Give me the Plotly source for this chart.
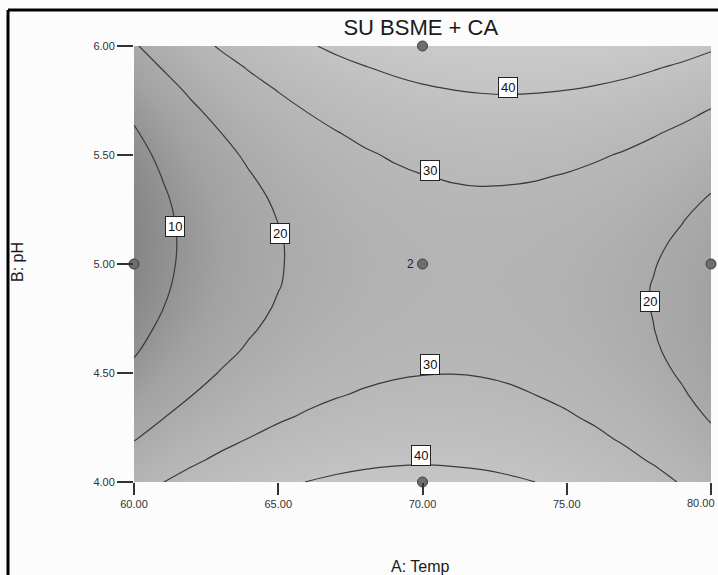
import plotly.graph_objects as go

# A: Temp (x), B: pH (y)
temp = [60, 61, 62, 63, 64, 65, 66, 67, 68, 69, 70, 71, 72, 73, 74, 75, 76, 77, 78, 79, 80]
ph = [4.0, 4.1, 4.2, 4.3, 4.4, 4.5, 4.6, 4.7, 4.8, 4.9, 5.0,
      5.1, 5.2, 5.3, 5.4, 5.5, 5.6, 5.7, 5.8, 5.9, 6.0]
# response "SU BSME + CA" estimated from the contour picture; rows = pH, columns = Temp
su = [
    [26.9, 29.9, 32.6, 34.9, 37.0, 38.7, 40.1, 41.2, 41.9, 42.4, 42.5, 42.3, 41.8, 41.0, 39.9, 38.4, 36.7, 34.6, 32.2, 29.5, 26.4],
    [23.1, 26.1, 28.9, 31.3, 33.4, 35.1, 36.6, 37.7, 38.6, 39.1, 39.3, 39.1, 38.7, 37.9, 36.9, 35.5, 33.7, 31.7, 29.4, 26.7, 23.7],
    [19.6, 22.7, 25.5, 28.0, 30.1, 32.0, 33.5, 34.7, 35.5, 36.1, 36.4, 36.3, 35.9, 35.2, 34.2, 32.8, 31.2, 29.2, 26.9, 24.3, 21.4],
    [16.5, 19.7, 22.5, 25.0, 27.3, 29.1, 30.7, 32.0, 32.9, 33.5, 33.8, 33.8, 33.5, 32.8, 31.9, 30.6, 29.0, 27.1, 24.8, 22.3, 19.4],
    [13.8, 17.0, 19.9, 22.5, 24.7, 26.7, 28.3, 29.6, 30.6, 31.3, 31.6, 31.7, 31.4, 30.8, 29.9, 28.7, 27.1, 25.3, 23.1, 20.6, 17.8],
    [11.4, 14.7, 17.6, 20.3, 22.6, 24.6, 26.3, 27.6, 28.7, 29.4, 29.8, 29.9, 29.7, 29.2, 28.3, 27.1, 25.6, 23.8, 21.7, 19.3, 16.5],
    [9.4, 12.7, 15.7, 18.4, 20.8, 22.9, 24.6, 26.0, 27.1, 27.9, 28.4, 28.5, 28.4, 27.9, 27.1, 26.0, 24.5, 22.8, 20.7, 18.3, 15.6],
    [7.8, 11.2, 14.2, 17.0, 19.4, 21.5, 23.3, 24.8, 25.9, 26.8, 27.3, 27.5, 27.4, 26.9, 26.2, 25.1, 23.8, 22.1, 20.1, 17.7, 15.1],
    [6.5, 9.9, 13.0, 15.8, 18.3, 20.5, 22.3, 23.9, 25.1, 26.0, 26.6, 26.8, 26.8, 26.4, 25.7, 24.7, 23.4, 21.7, 19.8, 17.5, 14.9],
    [5.6, 9.1, 12.2, 15.1, 17.6, 19.8, 21.7, 23.3, 24.6, 25.6, 26.2, 26.5, 26.5, 26.2, 25.6, 24.6, 23.3, 21.7, 19.8, 17.6, 15.1],
    [5.0, 8.6, 11.8, 14.7, 17.3, 19.6, 21.5, 23.2, 24.5, 25.5, 26.2, 26.6, 26.6, 26.3, 25.8, 24.9, 23.7, 22.1, 20.3, 18.1, 15.6],
    [4.8, 8.4, 11.7, 14.7, 17.3, 19.6, 21.7, 23.3, 24.7, 25.8, 26.5, 27.0, 27.1, 26.9, 26.3, 25.5, 24.4, 22.9, 21.1, 19.0, 16.6],
    [5.0, 8.6, 12.0, 15.0, 17.7, 20.1, 22.1, 23.9, 25.3, 26.5, 27.3, 27.7, 27.9, 27.8, 27.3, 26.5, 25.4, 24.0, 22.2, 20.2, 17.8],
    [5.5, 9.2, 12.6, 15.7, 18.4, 20.9, 23.0, 24.8, 26.3, 27.5, 28.3, 28.9, 29.1, 29.0, 28.6, 27.9, 26.8, 25.5, 23.8, 21.8, 19.5],
    [6.4, 10.2, 13.6, 16.7, 19.6, 22.1, 24.2, 26.1, 27.6, 28.9, 29.8, 30.4, 30.7, 30.6, 30.3, 29.6, 28.6, 27.3, 25.7, 23.7, 21.5],
    [7.6, 11.5, 15.0, 18.2, 21.0, 23.6, 25.8, 27.7, 29.3, 30.6, 31.6, 32.2, 32.6, 32.6, 32.3, 31.7, 30.7, 29.5, 27.9, 26.0, 23.8],
    [9.3, 13.1, 16.7, 19.9, 22.9, 25.5, 27.8, 29.7, 31.4, 32.7, 33.8, 34.5, 34.9, 34.9, 34.7, 34.1, 33.2, 32.0, 30.5, 28.7, 26.5],
    [11.2, 15.2, 18.8, 22.1, 25.1, 27.7, 30.1, 32.1, 33.8, 35.2, 36.3, 37.0, 37.5, 37.6, 37.4, 36.9, 36.1, 35.0, 33.5, 31.7, 29.6],
    [13.6, 17.6, 21.2, 24.6, 27.6, 30.3, 32.7, 34.8, 36.6, 38.0, 39.2, 40.0, 40.5, 40.7, 40.5, 40.1, 39.3, 38.2, 36.8, 35.1, 33.1],
    [16.3, 20.3, 24.0, 27.4, 30.5, 33.3, 35.8, 37.9, 39.7, 41.2, 42.4, 43.3, 43.9, 44.1, 44.0, 43.6, 42.9, 41.9, 40.5, 38.9, 36.9],
    [19.3, 23.4, 27.2, 30.7, 33.8, 36.7, 39.2, 41.4, 43.2, 44.8, 46.1, 47.0, 47.6, 47.9, 47.9, 47.5, 46.9, 45.9, 44.6, 43.0, 41.1],
]
# design points
design_temp = [60, 70, 70, 70, 80]
design_ph = [5.0, 4.0, 5.0, 6.0, 5.0]
design_rep = ["", "", "2", "", ""]
# contour label texts and their positions
label_text = ["10", "20", "30", "40", "20", "30", "40"]
label_temp = [61.42, 65.06, 70.26, 72.96, 77.89, 70.26, 69.95]
label_ph = [5.17, 5.14, 5.43, 5.81, 4.83, 4.54, 4.12]

xticks = [60, 65, 70, 75, 80]
yticks = [4.0, 4.5, 5.0, 5.5, 6.0]

FONT = "Liberation Sans, Arial, sans-serif"
TICKFONT = dict(family=FONT, size=11, color='#333')

fig = go.Figure()
fig.add_trace(go.Heatmap(
    x=temp, y=ph, z=su, zsmooth='best', zmin=0, zmax=50, showscale=False, hoverinfo='skip',
    colorscale=[[0, '#787878'], [0.3, '#a2a2a2'], [0.5, '#b2b2b2'], [0.8, '#c3c3c3'], [1, '#cdcdcd']]))
fig.add_trace(go.Contour(
    x=temp, y=ph, z=su, showscale=False,
    contours=dict(start=10, end=40, size=10, coloring='none'),
    line=dict(color='#3a3a3a', width=1.2, smoothing=1.0)))
fig.add_trace(go.Scatter(
    x=design_temp, y=design_ph, mode='markers', cliponaxis=False,
    marker=dict(size=10, color='#6e6e6e', line=dict(color='#3c3c3c', width=1))))

for t, a, b in zip(label_text, label_temp, label_ph):
    fig.add_annotation(x=a, y=b, text=t, showarrow=False, bgcolor='white',
                       bordercolor='#222', borderwidth=1, borderpad=2,
                       font=dict(family=FONT, size=13, color='#111'))
for t, a, b in zip(design_rep, design_temp, design_ph):
    if t:
        fig.add_annotation(x=a, y=b, text=t, showarrow=False, xshift=-12,
                           font=dict(family=FONT, size=12, color='#222'))

fig.update_xaxes(range=[60, 80], tickvals=xticks, tickformat='.2f', ticks='outside', ticklen=12,
                 tickcolor='#333', tickwidth=1.5, showgrid=False, zeroline=False, showline=False,
                 tickfont=TICKFONT)
fig.update_yaxes(range=[4, 6], tickvals=yticks, tickformat='.2f', ticks='outside', ticklen=16,
                 tickcolor='#333', tickwidth=1.5, showgrid=False, zeroline=False, showline=False,
                 tickfont=TICKFONT)

fig.update_layout(
    width=718, height=575, margin=dict(l=134, r=7, t=46, b=93),
    paper_bgcolor='#fcfcfc', plot_bgcolor='#b0b0b0', showlegend=False,
    title=dict(text="SU BSME + CA", x=0.497, xref='paper', xanchor='center',
               y=1 - 27 / 575, yref='container', yanchor='middle',
               font=dict(family=FONT, size=22, color='#1a1a1a')),
)
# last x tick label sits at the page edge: draw it right-aligned so it stays whole
fig.add_annotation(text="%.2f" % xticks[-1], xref='paper', yref='paper', x=(717 - 134) / 577,
                   y=(482 - 503) / 436, xanchor='right', yanchor='middle', showarrow=False,
                   font=TICKFONT)
# axis titles
fig.add_annotation(text="A: Temp", xref='paper', yref='paper', x=0.497, y=(482 - 566) / 436,
                   showarrow=False, yanchor='middle', font=dict(family=FONT, size=16, color='#1a1a1a'))
fig.add_annotation(text="B: pH", xref='paper', yref='paper', x=(17 - 134) / 577, y=(482 - 262) / 436,
                   showarrow=False, textangle=-90, xanchor='center', yanchor='middle',
                   font=dict(family=FONT, size=16, color='#1a1a1a'))
# scan frame (left and top borders)
fig.add_shape(type='line', xref='paper', yref='paper', x0=(8 - 134) / 577, x1=(718 - 134) / 577,
              y0=(482 - 10) / 436, y1=(482 - 10) / 436, line=dict(color='black', width=3))
fig.add_shape(type='line', xref='paper', yref='paper', x0=(8 - 134) / 577, x1=(8 - 134) / 577,
              y0=(482 - 10) / 436, y1=(482 - 575) / 436, line=dict(color='black', width=3))

fig.write_html("out.html", config={'displayModeBar': False},
               post_script="document.body.style.margin='0px';")
